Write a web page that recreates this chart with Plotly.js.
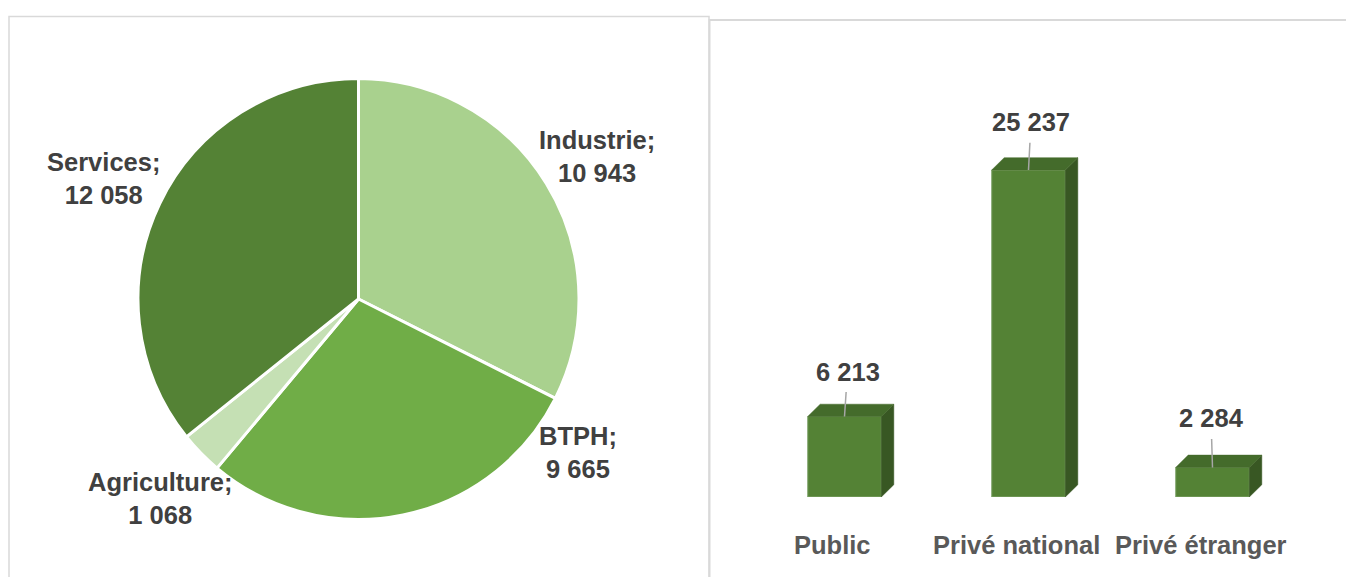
<!DOCTYPE html>
<html>
<head>
<meta charset="utf-8">
<script src="https://cdn.plot.ly/plotly-3.0.1.min.js"></script>
<style>
html,body{margin:0;padding:0;background:#fff;}
#chart{width:1346px;height:577px;}
</style>
</head>
<body>
<div id="chart"></div>
<script>
// ---- data ----
const sectors = ['Industrie', 'BTPH', 'Agriculture', 'Services'];
const sectorValues = [10943, 9665, 1068, 12058];
const sectorColors = ['#A9D18E', '#70AD47', '#C5E0B4', '#548235'];

const owners = ['Public', 'Privé national', 'Privé étranger'];
const ownerValues = [6213, 25237, 2284];

// ---- helpers ----
const W = 1346, H = 577;
const px = x => x / W;
const py = y => 1 - y / H;
const fmt = n => n.toString().replace(/\B(?=(\d{3})+(?!\d))/g, ' ');
const FONT = '"Liberation Sans", Arial, sans-serif';

// pie geometry (pixels)
const pieC = [358.5, 299], pieR = 220.5;
// label anchor positions for pie labels (pixels)
const pieLabelPos = [[597, 157], [578, 452], [160, 498], [103, 178]];

// bar geometry
const barW = 0.4;          // front face width in category units
const dX = 12.5 / 184;     // depth offset in x (category units)
const yTop = 36814;        // y range top
const dY = 12.3 * yTop / 477; // depth offset in y (data units)

const idx = owners.map((_, i) => i);

// top faces
const topX = [], topY = [], sideX = [], sideY = [];
idx.forEach(i => {
  const v = ownerValues[i];
  const l = i - barW / 2, r = i + barW / 2;
  topX.push(l, r, r + dX, l + dX, l, null);
  topY.push(v, v, v + dY, v + dY, v, null);
  sideX.push(r, r + dX, r + dX, r, r, null);
  sideY.push(0, dY, v + dY, v, 0, null);
});

const traces = [
  {
    type: 'pie',
    labels: sectors,
    values: sectorValues,
    marker: {colors: sectorColors, line: {color: '#ffffff', width: 3}},
    sort: false,
    direction: 'clockwise',
    rotation: 0,
    textinfo: 'none',
    hoverinfo: 'skip',
    showlegend: false,
    domain: {
      x: [px(pieC[0] - pieR), px(pieC[0] + pieR)],
      y: [py(pieC[1] + pieR), py(pieC[1] - pieR)]
    }
  },
  {
    type: 'scatter', mode: 'lines', x: sideX, y: sideY,
    fill: 'toself', fillcolor: '#385723',
    line: {color: '#385723', width: 0.5},
    hoverinfo: 'skip', showlegend: false, xaxis: 'x', yaxis: 'y'
  },
  {
    type: 'scatter', mode: 'lines', x: topX, y: topY,
    fill: 'toself', fillcolor: '#446B2B',
    line: {color: '#446B2B', width: 0.5},
    hoverinfo: 'skip', showlegend: false, xaxis: 'x', yaxis: 'y'
  },
  {
    type: 'bar',
    x: idx,
    y: ownerValues,
    width: barW,
    marker: {color: '#548235', line: {color: '#86A872', width: 1}},
    hoverinfo: 'skip', showlegend: false, xaxis: 'x', yaxis: 'y'
  }
];

const annotations = [];
// pie labels
sectors.forEach((s, i) => {
  annotations.push({
    xref: 'paper', yref: 'paper',
    x: px(pieLabelPos[i][0]), y: py(pieLabelPos[i][1]),
    xanchor: 'center', yanchor: 'middle',
    text: s + ';<br>' + fmt(sectorValues[i]),
    showarrow: false, align: 'center',
    font: {family: FONT, size: 25.5, color: '#404040', weight: 700}
  });
});
// bar value labels with leader lines
const leadAx = [3, 2.5, -1.5], leadAy = [-45, -47.7, -49];
idx.forEach(i => {
  annotations.push({
    xref: 'x', yref: 'y', x: i, y: ownerValues[i],
    text: fmt(ownerValues[i]),
    showarrow: true, arrowhead: 0, arrowwidth: 1.5, arrowcolor: '#A6A6A6',
    ax: leadAx[i], ay: leadAy[i], startstandoff: 5, standoff: 0,
    font: {family: FONT, size: 25.5, color: '#404040', weight: 700}
  });
  annotations.push({
    xref: 'x', yref: 'paper', x: i - 12 / 184, y: py(545),
    xanchor: 'center', yanchor: 'middle',
    text: owners[i], showarrow: false,
    font: {family: FONT, size: 25.5, color: '#595959', weight: 700}
  });
});

const layout = {
  width: W, height: H,
  margin: {l: 0, r: 0, t: 0, b: 0},
  paper_bgcolor: '#ffffff', plot_bgcolor: 'rgba(0,0,0,0)',
  showlegend: false,
  xaxis: {
    domain: [px(709), 1],
    range: [(709 - 844.5) / 184, (1346 - 844.5) / 184],
    visible: false, fixedrange: true
  },
  yaxis: {
    domain: [py(497), py(20)],
    range: [0, yTop],
    visible: false, fixedrange: true
  },
  shapes: [
    {type: 'rect', xref: 'paper', yref: 'paper',
     x0: px(9), x1: px(709), y0: py(16.5), y1: py(620),
     line: {color: '#D9D9D9', width: 1.5}, layer: 'below'},
    {type: 'rect', xref: 'paper', yref: 'paper',
     x0: px(709.5), x1: px(1360), y0: py(20), y1: py(620),
     line: {color: '#D9D9D9', width: 2}, layer: 'below'}
  ],
  annotations: annotations
};

Plotly.newPlot('chart', traces, layout, {staticPlot: true, displayModeBar: false});
</script>
</body>
</html>
